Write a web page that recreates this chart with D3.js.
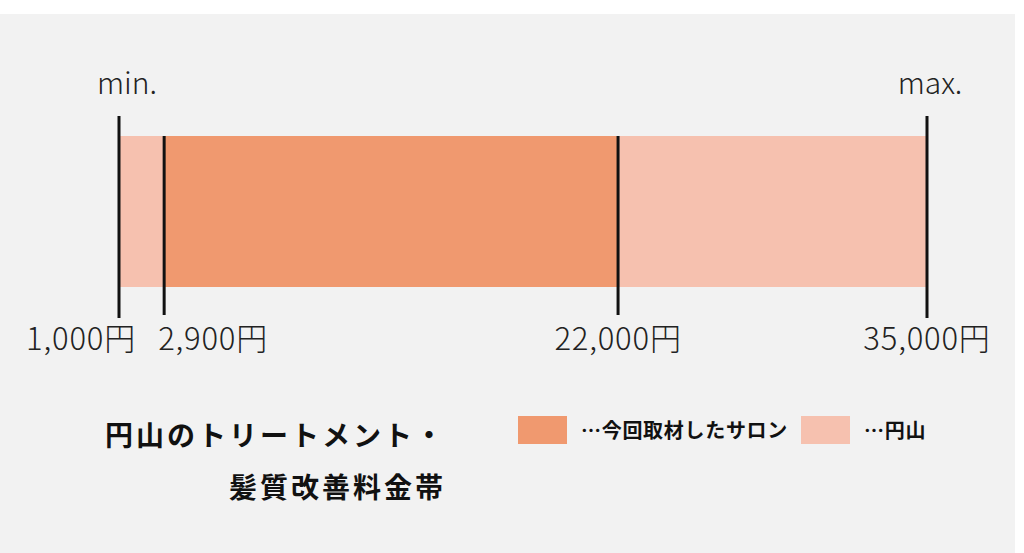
<!DOCTYPE html>
<html>
<head>
<meta charset="utf-8">
<script src="https://cdn.jsdelivr.net/npm/d3@7"></script>
<style>
  body { margin: 0; background: #fff; }
  svg { display: block; font-family: "Noto Sans CJK JP", "Noto Sans", sans-serif; }
</style>
</head>
<body>
<svg id="chart" width="1024" height="553"></svg>
<script>
const PRICE_MIN = 1000;
const PRICE_MAX = 35000;
const salonRange = [2900, 22000];
const areaRange = [1000, 35000];
const tickValues = [1000, 2900, 22000, 35000];
const endLabels = ['min.', 'max.'];
const titleLines = ['円山のトリートメント・', '髪質改善料金帯'];
const legendNames = ['…今回取材したサロン', '…円山'];

const DARK = '#f0996f';
const LIGHT = '#f6c1af';

const svg = d3.select('#chart');

svg.append('rect')
  .attr('x', 0).attr('y', 14)
  .attr('width', 1015).attr('height', 539)
  .style('fill', '#f2f2f2');

const x = d3.scaleLinear().domain([PRICE_MIN, PRICE_MAX]).range([119, 927]);
const barTop = 136, barBottom = 287;

// light band = whole area, dark band = salons covered
svg.append('rect')
  .attr('x', x(areaRange[0])).attr('y', barTop)
  .attr('width', x(areaRange[1]) - x(areaRange[0]))
  .attr('height', barBottom - barTop)
  .style('fill', LIGHT);

svg.append('rect')
  .attr('x', x(salonRange[0])).attr('y', barTop)
  .attr('width', x(salonRange[1]) - x(salonRange[0]))
  .attr('height', barBottom - barTop)
  .style('fill', DARK);

const isEnd = d => d === PRICE_MIN || d === PRICE_MAX;

svg.selectAll('.tick-line')
  .data(tickValues)
  .enter()
  .append('line')
  .classed('tick-line', true)
  .attr('x1', d => x(d)).attr('x2', d => x(d))
  .attr('y1', d => isEnd(d) ? 116 : barTop)
  .attr('y2', d => isEnd(d) ? 318 : 315)
  .style('stroke', '#111')
  .style('stroke-width', 3);

const fmt = d3.format(',');
svg.selectAll('.tick-label')
  .data(tickValues)
  .enter()
  .append('text')
  .classed('tick-label', true)
  .attr('x', (d, i) => {
    if (i === 0) return x(d) + 17;
    if (i === 1) return x(d) - 6;
    return x(d);
  })
  .attr('y', 350)
  .attr('text-anchor', (d, i) => i === 0 ? 'end' : (i === 1 ? 'start' : 'middle'))
  .style('font-size', '31px')
  .style('font-weight', 300)
  .style('letter-spacing', '0.8px')
  .style('fill', '#222')
  .text(d => fmt(d) + '円');

svg.selectAll('.end-label')
  .data(endLabels)
  .enter()
  .append('text')
  .classed('end-label', true)
  .attr('x', (d, i) => i === 0 ? x(PRICE_MIN) + 8 : x(PRICE_MAX) + 3)
  .attr('y', 94)
  .attr('text-anchor', 'middle')
  .style('font-size', '30px')
  .style('font-weight', 300)
  .style('fill', '#222')
  .text(d => d);

svg.selectAll('.title')
  .data(titleLines)
  .enter()
  .append('text')
  .classed('title', true)
  .attr('x', 446)
  .attr('y', (d, i) => 446 + i * 52)
  .attr('text-anchor', 'end')
  .style('font-size', '28px')
  .style('font-weight', 'bold')
  .style('letter-spacing', '3px')
  .style('fill', '#111')
  .text(d => d);

const legend = svg.selectAll('.legend')
  .data(legendNames)
  .enter()
  .append('g')
  .classed('legend', true)
  .attr('transform', (d, i) => 'translate(' + (i === 0 ? 518 : 801) + ', 416)');

legend.append('rect')
  .attr('width', 49).attr('height', 28)
  .style('fill', (d, i) => i === 0 ? DARK : LIGHT);

legend.append('text')
  .attr('x', 63).attr('y', 22)
  .style('font-size', '20px')
  .style('font-weight', 'bold')
  .style('letter-spacing', '0.7px')
  .style('fill', '#111')
  .text(d => d);
</script>
</body>
</html>
